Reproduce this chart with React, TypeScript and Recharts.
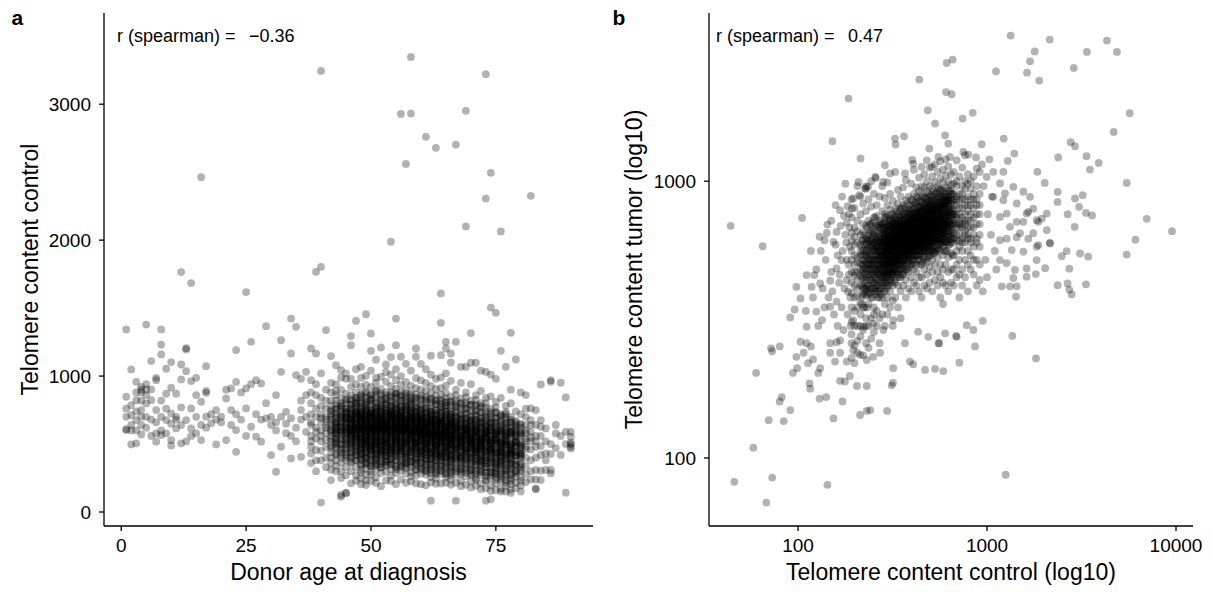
import { ScatterChart, Scatter, XAxis, YAxis, Label } from 'recharts';

const FONT = '"Liberation Sans", Arial, Helvetica, sans-serif';

// ---- panel a: donor age vs telomere content in control sample ----

// sparse donors under 38, as [age, telomere content]
const youngDonorsA: [number, number][] = [
  [1, 1343], [1, 848], [1, 603], [1, 610], [1, 700], [1, 760],
  [2, 1049], [2, 497], [2, 786], [2, 713], [2, 640], [2, 600],
  [3, 505], [3, 958], [3, 823], [3, 676], [3, 740], [3, 880], [3, 600],
  [4, 571], [4, 921], [4, 750], [4, 880], [4, 900], [4, 640], [4, 820], [4, 700],
  [5, 1379], [5, 902], [5, 799], [5, 940], [5, 860], [5, 620], [5, 700],
  [6, 1110], [6, 902], [6, 823], [6, 560], [6, 680],
  [7, 987], [7, 750], [7, 517], [7, 578], [7, 970], [7, 660],
  [8, 1343], [8, 1232], [8, 1159], [8, 566], [8, 600], [8, 820], [8, 700],
  [9, 1054], [9, 578], [9, 676], [9, 760], [9, 870],
  [10, 1103], [10, 914], [10, 725], [10, 529], [10, 490], [10, 650],
  [11, 615], [11, 700], [11, 680], [11, 870],
  [12, 1085], [12, 975], [12, 505], [12, 640], [12, 770], [12, 1765],
  [13, 1196], [13, 1205], [13, 1036], [13, 676], [13, 520],
  [14, 963], [14, 762], [14, 615], [14, 560], [14, 1684],
  [15, 987], [15, 578], [15, 700], [15, 860],
  [16, 811], [16, 529], [16, 640], [16, 2463],
  [17, 1073], [17, 877], [17, 890], [17, 701], [17, 620],
  [18, 652], [18, 720], [19, 750], [19, 497], [19, 680], [20, 701], [20, 660],
  [21, 835], [21, 529], [21, 900], [22, 750], [22, 909], [22, 640],
  [23, 958], [23, 1191], [23, 603], [23, 443], [23, 720], [24, 680], [24, 880],
  [25, 909], [25, 762], [25, 1618], [25, 560], [26, 1252], [26, 627], [26, 940],
  [27, 970], [27, 554], [27, 720], [28, 946], [28, 517], [28, 680],
  [29, 1367], [29, 689], [29, 800], [30, 419], [30, 700], [30, 640],
  [31, 296], [31, 860], [31, 600], [31, 660], [32, 1264], [32, 1031], [32, 480], [32, 700],
  [33, 737], [33, 650], [33, 580], [34, 1423], [34, 1166], [34, 394], [34, 560], [34, 690],
  [35, 1362], [35, 1007], [35, 620], [35, 520], [36, 750], [36, 406], [36, 820], [36, 980], [36, 680],
  [37, 1031], [37, 700], [37, 590], [37, 860],
];

// per-age columns, [age, telomere contents]
const adultAgesA: [number, number[]][] = [
  [38, [1203, 970, 560, 800, 430, 660, 880, 480, 720, 360, 640, 520]],
  [39, [1767, 1166, 456, 620, 860, 540, 700, 300, 940, 590, 380, 760]],
  [40, [3245, 1804, 69, 600, 840, 450, 720, 560, 1020, 380, 660, 520, 780, 690]],
  [41, [1338, 640, 480, 820, 580, 330, 700, 900, 530, 760, 400, 620, 680]],
  [42, [1147, 235, 610, 780, 470, 880, 540, 700, 360, 950, 590, 440, 740, 310, 660, 520, 820, 400, 680, 560, 490, 720, 640, 600, 750]],
  [43, [1080, 640, 500, 860, 380, 730, 570, 940, 430, 690, 300, 790, 540, 620, 480, 820, 340, 660, 600, 520, 760, 710, 580, 890, 650]],
  [44, [1044, 113, 125, 670, 530, 840, 420, 740, 590, 990, 300, 700, 460, 780, 610, 250, 900, 500, 630, 360, 800, 560, 710, 650, 760]],
  [45, [1020, 137, 142, 620, 800, 470, 700, 330, 870, 560, 440, 760, 270, 650, 530, 980, 400, 730, 580, 500, 830, 600, 680, 630, 690, 740]],
  [46, [1294, 1227, 211, 680, 520, 860, 440, 760, 600, 300, 920, 550, 700, 400, 820, 570, 470, 650, 360, 980, 610, 730, 500, 790, 630, 590, 710, 660]],
  [47, [1406, 650, 480, 820, 560, 730, 330, 940, 610, 420, 700, 270, 880, 540, 770, 450, 660, 230, 600, 1050, 510, 740, 380, 840, 620, 580, 690, 640, 800]],
];

const coreAgesA: [number, number[]][] = [
  [48, [1068, 612, 845, 430, 705, 290, 560, 774, 498, 655, 382, 921, 538, 690, 247, 611, 467, 803, 345, 585, 728, 419, 640, 515, 866, 310, 676, 452, 593, 757, 204, 533, 987, 402, 624, 480, 710]],
  [49, [1455, 198, 583, 742, 401, 936, 659, 318, 520, 811, 476, 697, 364, 611, 882, 438, 546, 769, 276, 630, 502, 715, 1002, 392, 568, 845, 455, 678, 233, 604, 741, 348, 529, 790, 425, 652, 491, 556]],
  [50, [1313, 1186, 640, 488, 826, 357, 702, 566, 920, 433, 611, 275, 748, 519, 674, 389, 862, 597, 460, 731, 228, 545, 688, 412, 1040, 623, 506, 797, 334, 578, 720, 451, 652, 299, 836, 541, 618, 475]],
  [51, [1120, 574, 713, 398, 866, 501, 642, 311, 777, 455, 598, 949, 365, 689, 527, 810, 431, 610, 256, 742, 493, 660, 379, 559, 893, 214, 636, 472, 724, 545, 340, 681, 418, 592, 765, 513, 627, 988]],
  [52, [1210, 995, 602, 437, 781, 518, 676, 352, 854, 589, 463, 719, 287, 640, 540, 905, 401, 662, 494, 756, 190, 571, 693, 426, 827, 619, 326, 548, 735, 480, 655, 372, 597, 799, 447, 612, 520, 700]],
  [53, [1085, 661, 485, 806, 372, 598, 729, 443, 958, 536, 677, 296, 614, 760, 504, 838, 411, 583, 232, 702, 467, 640, 348, 551, 881, 623, 522, 744, 389, 606, 686, 455, 570, 793, 425, 648, 512, 1030]],
  [54, [1988, 1140, 577, 724, 419, 860, 632, 350, 695, 509, 781, 454, 603, 268, 740, 548, 925, 390, 656, 480, 817, 228, 589, 710, 433, 526, 672, 316, 845, 615, 497, 763, 371, 560, 638, 444, 700, 1010]],
  [55, [1227, 1423, 620, 472, 789, 556, 694, 341, 905, 599, 448, 732, 287, 651, 523, 846, 406, 574, 681, 205, 497, 760, 629, 380, 545, 872, 610, 460, 718, 315, 588, 663, 430, 806, 539, 702, 1050, 970]],
  [56, [2928, 1142, 658, 503, 822, 386, 715, 574, 937, 447, 629, 303, 774, 540, 691, 420, 884, 607, 478, 746, 240, 561, 670, 356, 797, 618, 512, 1000, 430, 587, 733, 465, 646, 330, 853, 526, 700, 594]],
  [57, [2561, 1090, 600, 752, 413, 873, 566, 689, 335, 801, 489, 627, 958, 372, 705, 531, 842, 446, 612, 215, 770, 508, 657, 393, 585, 900, 283, 640, 470, 727, 549, 356, 679, 425, 608, 780, 522, 645]],
  [58, [3348, 2931, 630, 455, 813, 578, 727, 350, 930, 541, 670, 293, 789, 498, 611, 875, 416, 556, 702, 226, 640, 480, 756, 372, 595, 840, 527, 687, 439, 600, 262, 745, 510, 656, 397, 820, 566, 1040]],
  [59, [1203, 1142, 587, 729, 398, 866, 505, 661, 310, 784, 461, 620, 985, 365, 697, 541, 834, 430, 576, 210, 741, 490, 643, 344, 563, 912, 268, 612, 476, 708, 522, 385, 664, 447, 599, 762, 515, 690]],
  [60, [1090, 612, 448, 785, 532, 670, 336, 900, 568, 421, 713, 282, 631, 505, 826, 387, 594, 655, 205, 478, 740, 580, 361, 520, 858, 602, 445, 694, 310, 549, 633, 408, 760, 497, 676, 968, 560, 620]],
  [61, [2760, 1050, 573, 706, 392, 850, 497, 633, 303, 768, 452, 600, 950, 354, 669, 516, 818, 421, 560, 196, 726, 478, 616, 329, 548, 890, 275, 599, 462, 687, 531, 378, 651, 441, 582, 746, 508, 655]],
  [62, [1150, 590, 430, 760, 512, 645, 315, 872, 548, 400, 700, 256, 610, 490, 808, 366, 575, 636, 218, 463, 719, 560, 341, 526, 836, 594, 433, 681, 287, 540, 622, 390, 739, 479, 663, 925, 83, 1010]],
  [63, [2679, 980, 557, 689, 381, 822, 481, 619, 278, 749, 436, 585, 905, 332, 653, 500, 795, 403, 551, 208, 708, 463, 602, 306, 534, 858, 247, 570, 444, 671, 517, 357, 636, 424, 568, 728, 492, 680]],
  [64, [1608, 1392, 1154, 600, 445, 774, 523, 658, 334, 912, 566, 410, 730, 280, 621, 501, 826, 383, 587, 648, 210, 470, 751, 571, 359, 516, 862, 604, 426, 691, 308, 545, 673, 404, 798, 483, 990, 545]],
  [65, [1203, 1252, 1020, 580, 717, 387, 838, 487, 642, 284, 759, 430, 597, 930, 338, 660, 505, 808, 409, 557, 215, 737, 469, 625, 312, 540, 876, 253, 591, 450, 697, 520, 363, 630, 437, 574, 782, 690]],
  [66, [1100, 565, 415, 741, 493, 628, 298, 850, 530, 386, 681, 239, 594, 473, 787, 349, 548, 611, 200, 455, 700, 536, 324, 505, 815, 575, 416, 663, 270, 521, 610, 373, 720, 460, 645, 965, 1166, 500]],
];

const olderAgesA: [number, number[]][] = [
  [67, [2703, 1252, 83, 560, 705, 380, 820, 470, 630, 275, 745, 425, 590, 900, 330, 655, 500, 780, 400, 545, 215, 690, 455, 610, 300, 520, 860, 640]],
  [68, [1068, 540, 405, 720, 480, 612, 290, 835, 515, 368, 660, 230, 580, 455, 770, 340, 530, 600, 190, 440, 685, 505, 310, 490, 800, 560, 395, 950]],
  [69, [2101, 2951, 1068, 575, 690, 360, 805, 452, 618, 262, 728, 410, 566, 880, 322, 640, 480, 760, 388, 530, 200, 672, 440, 598, 290, 505, 845, 615]],
  [70, [1316, 1098, 530, 398, 700, 470, 600, 280, 820, 505, 362, 648, 225, 570, 445, 752, 330, 520, 585, 180, 430, 670, 497, 305, 480, 790, 550, 940]],
  [71, [1098, 560, 675, 350, 790, 442, 600, 250, 710, 398, 548, 860, 310, 625, 468, 740, 375, 515, 192, 655, 425, 580, 280, 490, 825, 236, 605, 460]],
  [72, [1040, 515, 380, 690, 455, 585, 270, 800, 490, 345, 630, 210, 555, 430, 735, 318, 505, 570, 168, 415, 655, 482, 290, 470, 770, 530, 372, 890]],
  [73, [3221, 2306, 83, 1031, 545, 655, 330, 770, 425, 580, 235, 690, 380, 530, 840, 290, 600, 450, 720, 355, 495, 175, 635, 405, 560, 265, 470, 800, 230, 590]],
  [74, [2495, 1504, 93, 1010, 500, 365, 660, 430, 560, 250, 760, 465, 320, 600, 195, 530, 405, 700, 295, 480, 545, 155, 390, 625, 455, 270, 440, 735, 510, 850]],
  [75, [1465, 980, 520, 630, 300, 735, 400, 550, 210, 655, 350, 500, 810, 260, 575, 425, 690, 330, 465, 160, 605, 375, 530, 240, 445, 770, 585, 285]],
  [76, [2064, 1186, 470, 340, 625, 405, 530, 225, 720, 440, 300, 575, 170, 500, 380, 660, 265, 455, 515, 150, 360, 600, 420, 245, 410, 700, 480, 840]],
  [77, [1068, 500, 600, 275, 700, 370, 520, 190, 625, 320, 470, 780, 235, 545, 400, 655, 300, 440, 150, 575, 345, 495, 215, 415, 735, 560]],
  [78, [1318, 900, 445, 320, 590, 380, 500, 205, 680, 415, 280, 545, 165, 470, 355, 620, 245, 430, 485, 140, 335, 570, 395, 230, 390, 660, 455, 800]],
  [79, [1122, 470, 570, 260, 660, 350, 490, 175, 600, 300, 440, 740, 215, 520, 380, 625, 285, 415, 520, 345]],
  [80, [880, 430, 310, 560, 360, 470, 195, 640, 395, 255, 515, 150, 445, 330, 590, 230, 410, 720]],
];

// second batch of donors aged 43-80, heavily overlapping in the middle band
const crowdedAgesA: [number, number[]][] = [
  [43, [620, 540, 700, 470, 580, 760, 510, 660, 420, 600]],
  [44, [580, 660, 500, 720, 440, 620, 780, 540, 690, 400, 600, 470]],
  [45, [640, 520, 690, 580, 760, 460, 610, 700, 540, 820, 420, 660, 590, 500, 730, 380]],
  [46, [600, 680, 530, 740, 470, 620, 790, 560, 700, 430, 650, 580, 830, 510, 610, 370, 720, 640, 490, 760, 550, 680, 410, 600]],
  [47, [560, 640, 720, 490, 610, 780, 530, 680, 420, 600, 750, 570, 660, 380, 710, 510, 840, 620, 470, 690, 590, 730, 440, 630, 800, 540]],
  [48, [610, 700, 540, 760, 480, 650, 820, 570, 690, 430, 620, 740, 520, 670, 390, 600, 800, 550, 710, 460, 640, 580, 860, 500, 680, 350, 620, 730]],
  [49, [580, 660, 720, 500, 630, 790, 540, 700, 440, 610, 760, 560, 680, 400, 640, 830, 520, 710, 470, 600, 750, 590, 880, 510, 650, 360, 620, 690]],
  [50, [640, 560, 710, 480, 620, 780, 530, 690, 420, 600, 750, 570, 660, 380, 700, 820, 510, 640, 460, 590, 730, 610, 860, 490, 670, 340, 620, 720]],
  [51, [600, 680, 520, 740, 470, 640, 800, 560, 700, 430, 610, 760, 540, 670, 390, 630, 840, 500, 690, 450, 580, 720, 620, 890, 520, 660, 350, 600]],
  [52, [620, 540, 700, 480, 650, 770, 560, 680, 420, 600, 740, 530, 660, 380, 710, 820, 500, 640, 450, 590, 760, 610, 870, 480, 670, 330, 630, 700]],
  [53, [590, 670, 510, 730, 460, 620, 790, 550, 700, 410, 640, 750, 530, 680, 370, 610, 830, 490, 660, 440, 580, 720, 600, 860, 520, 650, 340, 620]],
  [54, [630, 550, 700, 470, 610, 780, 540, 690, 430, 600, 750, 560, 670, 390, 720, 810, 500, 650, 460, 590, 740, 620, 880, 480, 680, 350, 610, 710]],
  [55, [600, 680, 520, 750, 480, 630, 790, 560, 710, 420, 620, 760, 530, 660, 380, 640, 840, 510, 690, 440, 580, 730, 600, 870, 500, 670, 330, 620]],
  [56, [610, 540, 690, 470, 640, 770, 550, 700, 410, 600, 740, 520, 680, 370, 710, 820, 490, 650, 450, 590, 750, 630, 860, 480, 660, 340, 600, 700]],
  [57, [580, 660, 500, 720, 450, 620, 780, 540, 690, 400, 630, 750, 520, 670, 360, 600, 820, 480, 660, 430, 570, 710, 590, 850, 510, 640, 320, 610]],
  [58, [620, 540, 680, 460, 600, 760, 530, 690, 410, 590, 730, 550, 660, 370, 700, 800, 490, 640, 440, 580, 740, 610, 860, 470, 670, 330, 600, 700]],
  [59, [590, 650, 510, 710, 450, 610, 770, 540, 680, 400, 620, 740, 520, 660, 360, 590, 810, 480, 650, 430, 560, 700, 580, 840, 500, 630, 310, 600]],
  [60, [600, 530, 670, 450, 590, 750, 520, 680, 400, 580, 720, 540, 650, 360, 690, 790, 480, 630, 430, 570, 730, 600, 840, 460, 660, 320, 590, 690]],
  [61, [570, 640, 500, 700, 440, 600, 760, 530, 670, 390, 610, 730, 510, 650, 350, 580, 800, 470, 640, 420, 550, 690, 570, 830, 490, 620, 300, 590]],
  [62, [590, 520, 660, 440, 580, 740, 510, 670, 390, 570, 710, 530, 640, 350, 680, 780, 470, 620, 420, 560, 720, 590, 830, 450, 650, 310, 580, 680]],
  [63, [560, 630, 490, 690, 430, 590, 750, 520, 660, 380, 600, 720, 500, 640, 340, 570, 790, 460, 630, 410, 540, 680, 560, 820, 480, 610, 290, 580]],
  [64, [580, 510, 650, 430, 570, 730, 500, 660, 380, 560, 700, 520, 630, 340, 670, 770, 460, 610, 410, 550, 710, 580, 820, 440, 640, 300, 570, 670]],
  [65, [550, 620, 480, 680, 420, 580, 740, 510, 650, 370, 590, 710, 490, 630, 330, 560, 780, 450, 620, 400, 530, 670, 550, 810, 470, 600, 280, 570]],
  [66, [570, 500, 640, 420, 560, 720, 490, 650, 370, 550, 690, 510, 620, 330, 660, 760, 450, 600, 400, 540, 700, 570, 810, 430, 630, 290, 560, 660]],
  [67, [540, 610, 470, 670, 410, 570, 730, 500, 640, 360, 580, 700, 480, 620, 320, 550, 770, 440, 610, 390, 520, 660, 540, 800, 460, 590]],
  [68, [560, 490, 630, 410, 550, 710, 480, 640, 360, 540, 680, 500, 610, 320, 650, 750, 440, 590, 390, 530, 690, 560, 800, 420, 620, 280]],
  [69, [530, 600, 460, 660, 400, 560, 720, 490, 630, 350, 570, 690, 470, 610, 310, 540, 760, 430, 600, 380, 510, 650, 530, 790, 450, 580]],
  [70, [550, 480, 620, 400, 540, 700, 470, 630, 350, 530, 670, 490, 600, 310, 640, 740, 430, 580, 380, 520, 680, 550, 790, 410, 610, 270]],
  [71, [520, 590, 450, 650, 390, 550, 710, 480, 620, 340, 560, 680, 460, 600, 300, 530, 750, 420, 590, 370, 500, 640, 520, 780, 440]],
  [72, [540, 470, 610, 390, 530, 690, 460, 620, 340, 520, 660, 480, 590, 300, 630, 730, 420, 570, 370, 510, 670, 540, 780, 400]],
  [73, [510, 580, 440, 640, 380, 540, 700, 470, 610, 330, 550, 670, 450, 590, 290, 520, 740, 410, 580, 360, 490, 630]],
  [74, [530, 460, 600, 380, 520, 680, 450, 610, 330, 510, 650, 470, 580, 290, 620, 720, 410, 560, 360, 500, 660]],
  [75, [500, 570, 430, 630, 370, 530, 690, 460, 600, 320, 540, 660, 440, 580, 280, 510, 730, 400, 570, 350]],
  [76, [520, 450, 590, 370, 510, 670, 440, 600, 320, 500, 640, 460, 570, 280, 610, 710, 400, 550, 350]],
  [77, [490, 560, 420, 620, 360, 520, 680, 450, 590, 310, 530, 650, 430, 570, 270, 500, 720, 390]],
  [78, [510, 440, 580, 360, 500, 660, 430, 590, 310, 490, 630, 450, 560, 270, 600, 700]],
  [79, [480, 550, 410, 610, 350, 510, 670, 440, 580, 300, 520, 640, 420, 560]],
  [80, [500, 430, 570, 350, 490, 650, 420, 580, 300, 480, 620]],
];

const oldestAgesA: [number, number[]][] = [
  [81, [760, 700, 640, 580, 520, 460, 400, 340, 280, 220, 860, 600, 480, 540]],
  [82, [2326, 762, 676, 590, 520, 460, 382, 300, 240, 640, 550]],
  [83, [750, 640, 560, 480, 400, 309, 240, 174, 167, 520]],
  [84, [938, 627, 676, 485, 420, 304, 235, 560]],
  [85, [615, 431, 309, 520, 380]],
  [86, [970, 958, 426, 309, 284, 500]],
  [87, [640, 578, 470]],
  [88, [951, 559, 420]],
  [89, [843, 590, 142, 500]],
  [90, [590, 554, 500, 468, 510, 480]],
];

const ageTicks = [0, 25, 50, 75];
const controlTicks = [0, 1000, 2000, 3000];

// ---- panel b: control vs tumor telomere content, both log10 ----

// dense part of the cloud: [control, tumor values at that control]
const cloudColumnsB: [number, number[]][] = [
  [192, [230, 310, 395, 470, 560, 650, 280, 520, 740, 430, 350, 610, 860, 260]],
  [199, [420, 255, 500, 340, 680, 590, 300, 455, 800, 380, 540, 220, 630, 470]],
  [206, [350, 470, 600, 265, 720, 410, 530, 300, 960, 445, 660, 385, 510, 240]],
  [214, [480, 330, 560, 640, 275, 420, 760, 505, 365, 590, 455, 880, 300, 540]],
  [221, [390, 520, 290, 615, 450, 700, 350, 560, 235, 480, 830, 410, 655, 500]],
  [229, [540, 410, 320, 690, 470, 600, 260, 510, 780, 385, 560, 440, 940, 300, 620]],
  [236, [460, 360, 580, 640, 300, 520, 720, 420, 500, 250, 860, 390, 610, 480, 550]],
  [244, [500, 620, 380, 560, 440, 700, 320, 590, 470, 810, 270, 530, 410, 660, 1000]],
  [252, [430, 560, 350, 670, 490, 600, 285, 740, 520, 400, 590, 460, 900, 330, 640, 510]],
  [261, [520, 400, 630, 470, 750, 580, 340, 550, 690, 445, 300, 610, 500, 820, 420, 570]],
  [270, [460, 590, 380, 680, 540, 720, 410, 500, 640, 320, 560, 880, 480, 610, 260, 530, 700]],
  [279, [560, 430, 650, 500, 780, 380, 600, 470, 700, 540, 330, 620, 450, 960, 580, 510, 680]],
  [288, [520, 640, 470, 580, 710, 430, 600, 360, 550, 680, 490, 760, 610, 300, 530, 450, 870, 570, 650, 400, 500, 620, 740, 460]],
  [297, [600, 480, 560, 690, 420, 530, 750, 510, 640, 380, 580, 470, 820, 620, 540, 330, 700, 450, 590, 660, 500, 990, 560, 610]],
  [307, [550, 660, 470, 610, 520, 730, 440, 580, 690, 400, 630, 500, 790, 560, 350, 600, 480, 670, 540, 900, 590, 460, 720, 620, 510]],
  [317, [630, 510, 570, 700, 460, 600, 540, 760, 420, 650, 580, 490, 680, 370, 620, 530, 850, 590, 470, 720, 560, 640, 300, 610, 690]],
  [327, [580, 660, 500, 620, 540, 730, 470, 600, 690, 430, 640, 560, 800, 510, 590, 380, 670, 620, 480, 750, 550, 1080, 610, 520, 700]],
  [338, [540, 610, 680, 500, 650, 580, 760, 460, 620, 700, 520, 590, 420, 640, 560, 830, 480, 670, 610, 350, 720, 600, 530, 930, 650]],
  [349, [620, 560, 700, 520, 640, 590, 750, 480, 670, 610, 540, 800, 450, 630, 580, 690, 510, 400, 720, 600, 660, 550, 880, 320, 610]],
  [360, [580, 650, 520, 700, 610, 560, 760, 490, 640, 600, 680, 540, 820, 460, 620, 570, 730, 510, 660, 420, 590, 950, 630, 550, 700]],
  [372, [640, 590, 720, 550, 670, 610, 780, 520, 650, 600, 700, 480, 630, 570, 850, 540, 690, 610, 440, 740, 580, 660, 380, 620, 1010]],
  [384, [600, 680, 560, 720, 630, 580, 790, 510, 660, 620, 740, 550, 700, 470, 640, 590, 880, 530, 680, 410, 610, 760, 650, 570, 700]],
  [397, [660, 590, 740, 620, 690, 560, 800, 640, 530, 710, 600, 760, 500, 650, 580, 860, 620, 450, 720, 670, 550, 980, 610, 690, 400]],
  [410, [620, 700, 580, 750, 640, 600, 820, 560, 680, 630, 770, 520, 660, 600, 900, 480, 710, 640, 580, 430, 740, 620, 690, 540, 1100]],
  [423, [680, 610, 770, 640, 560, 720, 600, 830, 660, 540, 700, 620, 760, 500, 650, 590, 880, 630, 470, 740, 680, 570, 950, 610, 420]],
  [437, [640, 720, 600, 780, 660, 580, 740, 620, 850, 560, 700, 640, 800, 520, 680, 610, 920, 590, 450, 760, 650, 700, 540, 1030, 400]],
  [451, [700, 630, 780, 600, 720, 660, 840, 580, 690, 640, 760, 550, 710, 620, 900, 500, 670, 740, 600, 450, 800, 650, 580, 960, 380]],
  [466, [660, 740, 610, 800, 680, 580, 760, 640, 870, 560, 720, 650, 820, 530, 700, 620, 950, 600, 480, 780, 690, 640, 420, 1060, 560]],
  [481, [720, 650, 800, 620, 740, 680, 860, 590, 700, 640, 780, 560, 730, 620, 920, 510, 680, 760, 600, 460, 840, 670, 580, 1000, 410]],
  [497, [680, 760, 620, 820, 700, 600, 780, 650, 880, 570, 740, 660, 830, 540, 710, 630, 960, 600, 490, 800, 700, 640, 430, 1120, 560]],
  [513, [740, 660, 810, 620, 760, 690, 880, 600, 710, 650, 790, 560, 730, 640, 940, 520, 690, 770, 600, 470, 850, 680, 580, 1040, 400]],
  [530, [700, 780, 630, 840, 720, 610, 800, 660, 900, 580, 750, 670, 850, 550, 720, 640, 990, 610, 500, 820, 700, 440, 1150, 560]],
  [548, [760, 680, 830, 640, 780, 700, 900, 610, 730, 660, 810, 570, 750, 650, 960, 530, 700, 790, 610, 470, 870, 690, 420, 1080]],
  [566, [720, 800, 650, 860, 740, 620, 820, 670, 930, 590, 760, 680, 880, 560, 730, 640, 1020, 600, 500, 840, 710, 450, 1180, 380]],
  [585, [780, 690, 850, 650, 800, 710, 920, 620, 740, 670, 830, 580, 760, 650, 990, 540, 700, 810, 600, 480, 880, 430, 1100, 360]],
  [604, [730, 820, 660, 880, 750, 630, 840, 680, 950, 600, 770, 690, 900, 560, 740, 500, 1050, 610, 420, 860, 710, 1200]],
  [624, [800, 700, 860, 660, 820, 720, 940, 630, 750, 680, 850, 590, 770, 530, 1000, 470, 880, 610, 400, 1130]],
  [645, [740, 830, 670, 900, 760, 640, 860, 690, 970, 600, 780, 550, 920, 480, 1060, 620, 430, 700]],
  [667, [700, 820, 600, 900, 760, 540, 650, 980, 480, 720, 860, 420, 620, 1080, 780]],
  [690, [760, 640, 880, 700, 560, 820, 960, 500, 680, 740, 450, 1000, 610, 860]],
  [714, [680, 800, 580, 900, 720, 520, 640, 1040, 760, 460, 850, 610, 700, 380]],
  [739, [740, 620, 860, 700, 960, 560, 800, 480, 680, 1120, 600, 900, 420]],
  [765, [700, 820, 600, 940, 660, 520, 760, 1000, 450, 860, 640, 720]],
  [792, [780, 640, 880, 720, 560, 980, 680, 500, 820, 400, 1060, 620]],
  [820, [720, 860, 620, 760, 940, 540, 680, 480, 820, 1000, 600]],
  [850, [680, 800, 580, 900, 740, 460, 640, 1040, 520, 860]],
  [882, [760, 620, 860, 700, 520, 960, 600, 420, 820]],
  [915, [700, 580, 820, 640, 900, 500, 760, 1080, 440]],
];

// the darkest middle of the cloud, sitting between the columns above
const crowdedColumnsB: [number, number[]][] = [
  [218, [470, 360, 540, 420, 610, 500, 445, 385, 575]],
  [225, [430, 515, 350, 590, 460, 395, 640, 545, 485, 410]],
  [232, [500, 400, 565, 450, 350, 620, 480, 530, 420, 680, 590]],
  [240, [455, 540, 395, 610, 500, 440, 660, 575, 485, 520, 410, 700]],
  [248, [520, 430, 600, 480, 380, 650, 545, 460, 710, 410, 580, 500, 620]],
  [256, [480, 570, 410, 630, 520, 450, 690, 390, 600, 540, 470, 740, 430, 560]],
  [265, [520, 440, 580, 480, 400, 620, 540, 460, 680, 420, 600, 500, 560, 380, 490, 650]],
  [274, [480, 560, 430, 610, 520, 410, 660, 470, 580, 540, 450, 710, 500, 600, 390, 530]],
  [283, [540, 460, 600, 500, 420, 640, 560, 480, 700, 440, 620, 520, 580, 400, 510, 670, 550]],
  [292, [500, 580, 450, 630, 540, 430, 680, 490, 600, 560, 470, 740, 520, 620, 410, 550, 660]],
  [302, [560, 480, 620, 520, 440, 660, 580, 500, 720, 460, 640, 540, 600, 420, 530, 690, 570]],
  [312, [520, 600, 470, 650, 560, 450, 700, 510, 620, 580, 490, 760, 540, 640, 430, 570, 680, 500]],
  [322, [580, 500, 640, 540, 460, 680, 600, 520, 740, 480, 660, 560, 620, 440, 550, 710, 590, 510]],
  [333, [540, 620, 490, 670, 580, 470, 720, 530, 640, 600, 510, 780, 560, 660, 450, 590, 700, 520]],
  [344, [600, 520, 660, 560, 480, 710, 620, 540, 780, 500, 680, 580, 640, 450, 570, 740, 610, 530]],
  [355, [560, 640, 500, 690, 590, 480, 750, 540, 660, 610, 510, 800, 570, 680, 460, 600, 720, 550]],
  [366, [620, 540, 680, 580, 500, 730, 640, 560, 800, 520, 700, 600, 660, 470, 590, 760, 630, 550]],
  [378, [580, 660, 520, 710, 610, 500, 770, 560, 690, 630, 530, 830, 590, 700, 480, 620, 740, 560]],
  [390, [640, 560, 700, 600, 520, 750, 660, 580, 820, 540, 720, 620, 680, 490, 610, 780, 650, 570]],
  [403, [600, 680, 540, 730, 630, 520, 790, 580, 710, 650, 550, 850, 610, 720, 500, 640, 760, 590]],
  [416, [660, 580, 720, 620, 540, 770, 680, 600, 840, 560, 740, 640, 700, 510, 630, 800, 670, 590]],
  [430, [620, 700, 560, 750, 650, 540, 810, 600, 730, 670, 570, 870, 630, 740, 520, 660, 780, 610]],
  [444, [660, 580, 720, 610, 540, 780, 680, 600, 850, 560, 740, 640, 700, 500, 630, 810, 670, 590]],
  [458, [620, 700, 560, 760, 650, 530, 820, 600, 720, 680, 570, 880, 640, 740, 510, 660, 790, 610]],
  [473, [690, 600, 750, 640, 560, 800, 710, 620, 870, 580, 770, 660, 730, 520, 650, 830, 700, 630]],
  [489, [640, 730, 580, 780, 670, 550, 840, 620, 750, 700, 590, 900, 650, 770, 530, 690, 810, 610]],
  [505, [710, 620, 770, 660, 580, 820, 730, 640, 890, 600, 790, 680, 750, 540, 670, 850, 720]],
  [521, [660, 750, 600, 800, 690, 570, 860, 640, 770, 720, 610, 920, 670, 790, 550, 710]],
  [539, [730, 640, 790, 680, 600, 840, 750, 660, 910, 620, 810, 700, 770, 560, 690]],
  [557, [680, 770, 620, 820, 710, 590, 880, 660, 790, 740, 630, 940, 690, 570]],
  [575, [750, 660, 810, 700, 620, 860, 770, 680, 930, 640, 830, 720, 600]],
  [594, [700, 790, 640, 840, 730, 610, 900, 680, 810, 760, 650, 560]],
  [614, [770, 680, 830, 720, 640, 880, 790, 700, 600, 850, 560]],
  [634, [720, 810, 660, 860, 750, 630, 920, 700, 590, 780]],
  [656, [790, 700, 850, 740, 660, 900, 620, 760, 540]],
];

// low-left tail of the cloud, [control, tumor]
const lowTailB: [number, number][] = [
  [44, 690], [65, 582], [105, 737], [117, 560], [111, 458], [122, 458], [98, 415], [91, 322],
  [96, 344], [111, 298], [80, 253], [72, 249], [46, 82], [68, 69], [73, 85], [58, 109],
  [143, 80], [60, 203], [70, 137], [84, 136], [73, 243], [82, 166], [80, 160], [91, 149],
  [98, 232], [94, 203], [154, 139], [130, 164], [141, 166], [172, 160], [213, 143], [231, 148],
  [241, 149], [296, 148], [205, 182], [231, 182], [313, 183], [116, 178], [115, 186],
  [103, 263], [111, 260], [117, 253], [99, 211], [107, 240], [113, 220], [120, 227],
  [128, 203], [131, 211], [148, 240], [157, 223], [167, 240], [181, 223], [148, 260], [160, 262],
  [196, 245], [213, 236], [231, 226], [250, 232], [272, 240], [167, 190], [177, 189], [188, 198],
  [196, 315], [222, 298], [250, 306], [283, 290], [319, 315], [143, 697], [138, 612], [154, 604],
  [167, 786], [183, 812], [193, 799], [160, 656], [181, 708], [196, 866], [211, 890], [226, 941],
  [103, 377], [118, 415], [131, 427], [148, 437], [125, 338], [134, 315], [148, 352],
  [160, 367], [167, 266], [160, 484], [170, 519], [181, 439], [184, 399],
  [125, 480], [132, 560], [140, 520], [150, 470], [158, 590], [165, 430], [172, 560], [178, 640],
  [185, 500], [188, 580], [135, 410], [145, 380], [155, 330], [162, 300], [170, 350], [176, 410],
  [183, 330], [186, 460], [142, 650], [150, 720], [162, 540], [168, 690], [175, 750], [180, 600],
  [187, 680], [128, 300], [138, 350], [152, 400], [166, 460], [174, 290], [181, 520], [189, 380],
  [158, 820], [171, 880], [120, 380], [110, 340], [130, 630], [178, 980], [186, 760], [190, 300],
  [470, 208], [531, 210], [587, 206], [714, 221], [559, 260], [686, 276], [781, 302], [949, 313],
  [864, 253], [391, 223], [407, 218], [319, 211], [318, 187], [368, 260], [432, 286], [489, 274],
  [553, 260], [600, 282], [691, 274], [847, 290], [1361, 276], [1816, 229], [1256, 87],
];

// upper and right-hand part of the cloud, [control, tumor]
const upperRightB: [number, number][] = [
  [152, 1394], [185, 1989], [214, 1208], [288, 1142], [209, 994], [229, 959], [258, 1028],
  [326, 1426], [364, 1453], [328, 1356], [402, 1195], [495, 1312], [486, 1804], [531, 1615],
  [438, 2328], [612, 2673], [658, 2750], [607, 2099], [650, 2061], [743, 1683], [840, 1766],
  [600, 1465], [624, 1368], [937, 1360], [749, 1276], [796, 1248], [875, 1219], [1116, 2495],
  [256, 1036], [235, 954], [282, 994], [307, 1066], [368, 1066], [407, 1158], [451, 1127],
  [480, 1190], [510, 1127], [553, 1224], [637, 1224], [691, 1190], [765, 1241], [882, 1111],
  [996, 1036], [1080, 1081], [1220, 1081], [1378, 954], [1557, 916], [1689, 878], [1436, 831],
  [1620, 764], [1831, 723], [2070, 666], [2155, 596], [1080, 878], [1220, 854], [1271, 764],
  [1172, 743], [1323, 684], [1495, 649], [1756, 649], [1869, 588],
  [3104, 548], [3431, 534],
  [1172, 982], [1245, 903], [1436, 713],
  [1557, 713], [1654, 775], [1756, 796], [1869, 713], [1949, 733], [2070, 764],
  [1172, 612], [1271, 620], [1350, 564], [1436, 628], [1654, 620],
  [1172, 519], [1271, 506], [1405, 478], [1378, 447], [1436, 417], [1323, 417],
  [1197, 417], [1620, 484], [1620, 452], [1831, 519], [1831, 580],
  [1424, 383], [1557, 556], [960, 960], [1010, 760], [1050, 640], [980, 520], [1100, 560],
  [1000, 450], [1120, 480], [950, 400], [1060, 880], [940, 1150], [1030, 1200],
  [1334, 3357], [2147, 3248], [1788, 2944], [1689, 2710], [1628, 2466], [1890, 2309],
  [3380, 2930], [4310, 3222], [4870, 2930], [2875, 2565], [5690, 1760], [4680, 1507],
  [2771, 1383], [2920, 1338], [3360, 1231], [3505, 1102], [3900, 1164], [2380, 1219],
  [5483, 986], [7000, 731], [9530, 660], [6100, 615], [5483, 543], [1226, 1426], [1395, 1258],
  [1287, 1184], [1846, 1081], [2020, 986], [2364, 915], [2364, 842], [2670, 760], [2910, 684],
  [3210, 890], [3070, 808], [3340, 768], [3595, 752], [2920, 866],
  [2640, 559], [2485, 536], [2725, 483],
  [2364, 421], [2670, 427], [2725, 406], [2805, 390], [3340, 424],
  [2030, 485], [1812, 462], [2150, 599],
];

const logTicksX = [100, 1000, 10000];
const logTicksY = [100, 1000];

const pointsA = [
  ...youngDonorsA.map(([age, control]) => ({ age, control })),
  ...[...adultAgesA, ...coreAgesA, ...olderAgesA, ...crowdedAgesA, ...oldestAgesA].flatMap(
    ([age, values]) => values.map((control) => ({ age, control }))
  ),
];

const pointsB = [
  ...[...cloudColumnsB, ...crowdedColumnsB].flatMap(([control, values]) =>
    values.map((tumor) => ({ control, tumor }))
  ),
  ...lowTailB.map(([control, tumor]) => ({ control, tumor })),
  ...upperRightB.map(([control, tumor]) => ({ control, tumor })),
];

const Dot = (props: any) => (
  <circle cx={props.cx} cy={props.cy} r={3.9} fill="#000" fillOpacity={0.3} />
);

const tickStyle = { fill: '#000', fontSize: 19, fontFamily: FONT };
const titleStyle = { fill: '#000', fontSize: 23, fontFamily: FONT, textAnchor: 'middle' as const };
const axisLine = { stroke: '#000', strokeWidth: 1.3 };
const tickLine = { stroke: '#000', strokeWidth: 1.3 };

export default function App() {
  return (
    <div style={{ position: 'absolute', left: 0, top: 0, width: 1212, height: 592, background: '#fff' }}>
      <div style={{ position: 'absolute', left: 0, top: 0 }}>
        <ScatterChart width={600} height={592} margin={{ top: 13, right: 7, bottom: 0, left: 0 }}>
          <XAxis
            type="number"
            dataKey="age"
            domain={[-3.45, 94.45]}
            ticks={ageTicks}
            allowDataOverflow
            height={66}
            tickSize={5}
            tickMargin={8}
            tick={tickStyle}
            axisLine={axisLine}
            tickLine={tickLine}
          >
            <Label value="Donor age at diagnosis" position="insideBottom" offset={12} style={titleStyle} />
          </XAxis>
          <YAxis
            type="number"
            dataKey="control"
            domain={[-103, 3671]}
            ticks={controlTicks}
            allowDataOverflow
            width={104}
            tickSize={5}
            tickMargin={8}
            tick={tickStyle}
            axisLine={axisLine}
            tickLine={tickLine}
          >
            <Label value="Telomere content control" angle={-90} position="insideLeft" offset={30} style={titleStyle} />
          </YAxis>
          <Scatter data={pointsA} shape={Dot} isAnimationActive={false} />
        </ScatterChart>
      </div>
      <div style={{ position: 'absolute', left: 606, top: 0 }}>
        <ScatterChart width={606} height={592} margin={{ top: 13, right: 19, bottom: 0, left: 0 }}>
          <XAxis
            type="number"
            dataKey="control"
            scale="log"
            domain={[33.8, 12300]}
            ticks={logTicksX}
            allowDataOverflow
            height={66}
            tickSize={5}
            tickMargin={8}
            tick={tickStyle}
            axisLine={axisLine}
            tickLine={tickLine}
          >
            <Label value="Telomere content control (log10)" position="insideBottom" offset={12} style={titleStyle} />
          </XAxis>
          <YAxis
            type="number"
            dataKey="tumor"
            scale="log"
            domain={[56.8, 4052]}
            ticks={logTicksY}
            allowDataOverflow
            width={103}
            tickSize={5}
            tickMargin={8}
            tick={tickStyle}
            axisLine={axisLine}
            tickLine={tickLine}
          >
            <Label value="Telomere content tumor (log10)" angle={-90} position="insideLeft" offset={28} style={titleStyle} />
          </YAxis>
          <Scatter data={pointsB} shape={Dot} isAnimationActive={false} />
        </ScatterChart>
      </div>
      <svg width={1212} height={592} style={{ position: 'absolute', left: 0, top: 0, pointerEvents: 'none' }}>
        <g fontFamily={FONT} fill="#000">
          <text x={11.5} y={25} fontSize={21} fontWeight="bold">a</text>
          <text x={612.5} y={25} fontSize={21} fontWeight="bold">b</text>
          <text x={117} y={42} fontSize={18}>r (spearman) =</text>
          <text x={249} y={42} fontSize={18}>−0.36</text>
          <text x={716} y={42} fontSize={18}>r (spearman) =</text>
          <text x={848} y={42} fontSize={18}>0.47</text>
        </g>
      </svg>
    </div>
  );
}
